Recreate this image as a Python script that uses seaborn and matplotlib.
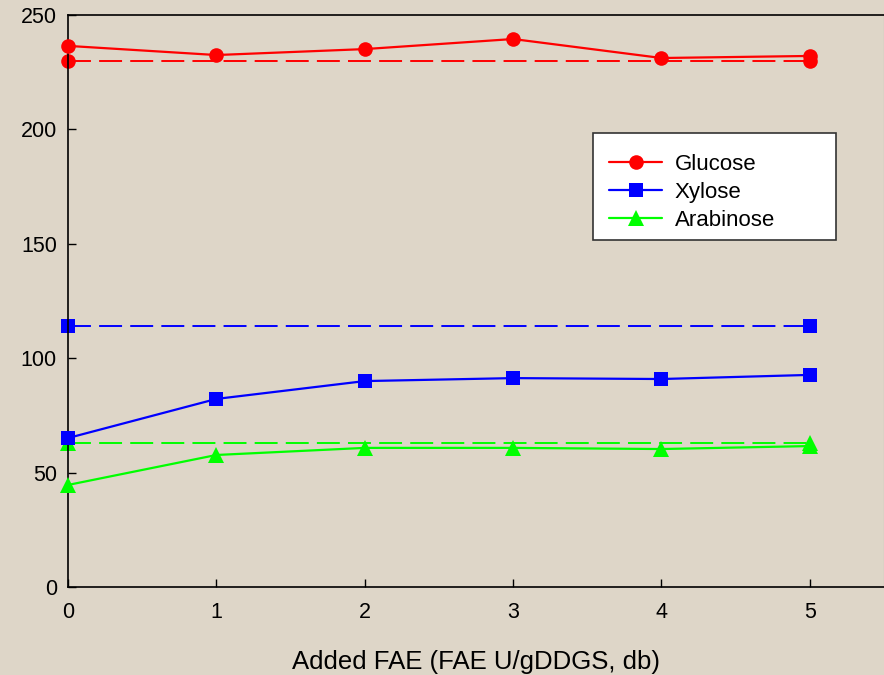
import matplotlib
matplotlib.use('Agg')
import numpy as np
import pandas as pd
import matplotlib.pyplot as plt
import seaborn as sns
from matplotlib.patches import Rectangle

fae = [0, 1, 2, 3, 4, 5]
glucose = [236.5, 232.5, 235.1, 239.5, 231.2, 232.1]
xylose = [65.1, 82.2, 90.0, 91.3, 90.9, 92.7]
arabinose = [44.6, 57.7, 60.8, 60.8, 60.3, 61.6]

# reference levels (dashed), marked only at both ends
ref_x = [0, 5]
glucose_ref = [230.0, 230.0]
xylose_ref = [114.1, 114.1]
arabinose_ref = [62.9, 62.9]

sns.set_style('ticks')
plt.rcParams['font.family'] = ['Liberation Sans', 'DejaVu Sans']
plt.rcParams['text.color'] = 'black'
plt.rcParams['axes.labelcolor'] = 'black'
bg = '#ded6c8'

fig = plt.figure(figsize=(8.84, 6.75), dpi=100, facecolor=bg)
ax = fig.add_axes([68/884, 88/675, 1 - 68/884, (587-15)/675])
ax.set_facecolor(bg)

series = [
    ('Glucose', glucose, glucose_ref, 'red', 'o', 10.5),
    ('Xylose', xylose, xylose_ref, 'blue', 's', 9.5),
    ('Arabinose', arabinose, arabinose_ref, '#00ff00', '^', 11),
]

for name, vals, ref, col, mk, ms in series:
    sns.lineplot(x=ref_x, y=ref, ax=ax, color=col, lw=1.4, linestyle=(0, (11.8, 4.2)),
                 marker=mk, markersize=ms, markeredgewidth=0, legend=False,
                 zorder=2, clip_on=False)
    sns.lineplot(x=fae, y=vals, ax=ax, color=col, lw=1.6, marker=mk, markersize=ms,
                 markeredgewidth=0, label=name, zorder=3, clip_on=False)

ax.set_xlim(0, 5.5)
ax.set_ylim(0, 250)
ax.set_xticks(fae)
ax.set_yticks([0, 50, 100, 150, 200, 250])
ax.tick_params(direction='in', length=6, width=1, labelsize=15.5, colors='black')
ax.tick_params(axis='x', pad=11)
ax.tick_params(axis='y', pad=8)
for s in ['left', 'bottom', 'top']:
    ax.spines[s].set_color('black')
    ax.spines[s].set_linewidth(1.2)
ax.spines['right'].set_color('#999999')
ax.set_xlabel('Added FAE (FAE U/gDDGS, db)', fontsize=18.5, labelpad=19, color='black')
ax.set_ylabel('')

# legend box drawn separately (it is wider than its contents)
ax.add_patch(Rectangle(((593-68)/816, (587-240)/572), 243/816, 107/572,
                       transform=ax.transAxes, facecolor='white', edgecolor='#333333',
                       lw=1.2, zorder=4, clip_on=False))
leg = ax.legend(loc='upper left', bbox_to_anchor=((609-68)/816, (587-154)/572),
                frameon=False, fontsize=16, handlelength=2.4,
                handletextpad=0.55, borderpad=0, labelspacing=0.32, borderaxespad=0)
leg.set_zorder(5)
for t in leg.get_texts():
    t.set_color('black')

fig.savefig('out.png', dpi=100, facecolor=bg)
